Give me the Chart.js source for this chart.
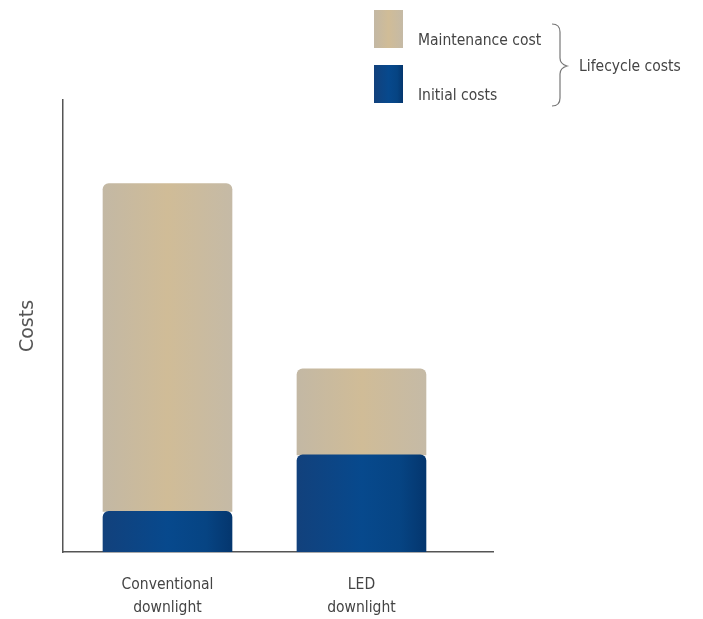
<!DOCTYPE html>
<html lang="en">
<head>
    <meta charset="UTF-8">
    <title>Lifecycle costs</title>
    <style>
        body {
            margin: 0;
            background-color: #fff;
        }
        .wrap {
            width: 703px;
            height: 619px;
        }
    </style>
</head>
<body>
    <div class="wrap">
        <canvas id="chart"></canvas>
    </div>

    <script src="https://cdn.jsdelivr.net/npm/chart.js@4"></script>
    <script>
        // Data
        const categories = [['Conventional', 'downlight'], ['LED', 'downlight']];
        const categoryPositions = [1, 2];
        const initialCosts = [9, 21.5];
        const maintenanceCosts = [72.5, 19];
        const seriesNames = ['Initial costs', 'Maintenance cost'];
        const groupLabel = 'Lifecycle costs';
        const yTitle = 'Costs';

        const FONT = "'DejaVu Sans Condensed', 'DejaVu Sans', sans-serif";

        // colour stops across the bar (left -> right)
        const tan = [[0, '#c3b8a4'], [0.5, '#d0bc97'], [1, '#c5baa6']];
        const blue = [[0, '#12417c'], [0.5, '#07498d'], [0.8, '#064483'], [1, '#04366e']];

        function hGradient(ctx, x0, x1, stops) {
            const g = ctx.createLinearGradient(x0, 0, x1, 0);
            stops.forEach(s => g.addColorStop(s[0], s[1]));
            return g;
        }

        const BAR_W = 129;

        function barFill(stops) {
            return function (context) {
                const chart = context.chart;
                if (!chart.chartArea || context.parsed === undefined) return stops[1][1];
                const cx = chart.scales.x.getPixelForValue(context.parsed.x);
                return hGradient(chart.ctx, cx - BAR_W / 2, cx + BAR_W / 2, stops);
            };
        }

        // custom legend with the brace
        const legendPlugin = {
            id: 'sideLegend',
            afterDraw(chart) {
                const ctx = chart.ctx;
                ctx.save();
                ctx.fillStyle = hGradient(ctx, 374, 403, tan);
                ctx.fillRect(374, 10, 29, 38);
                ctx.fillStyle = hGradient(ctx, 374, 403, blue);
                ctx.fillRect(374, 65, 29, 38);

                ctx.font = '15.5px ' + FONT;
                ctx.fillStyle = '#444';
                ctx.textBaseline = 'middle';
                ctx.fillText(seriesNames[1], 418, 41);
                ctx.fillText(seriesNames[0], 418, 96);
                ctx.fillText(groupLabel, 579, 67);

                ctx.strokeStyle = '#777';
                ctx.lineWidth = 1.2;
                ctx.beginPath();
                ctx.moveTo(552, 24);
                ctx.quadraticCurveTo(560, 24, 560, 32);
                ctx.lineTo(560, 58);
                ctx.quadraticCurveTo(560, 64, 567, 66);
                ctx.quadraticCurveTo(560, 68, 560, 74);
                ctx.lineTo(560, 98);
                ctx.quadraticCurveTo(560, 106, 552, 106);
                ctx.stroke();
                ctx.restore();
            }
        };

        const radius = { topLeft: 6, topRight: 6, bottomLeft: 0, bottomRight: 0 };

        new Chart(document.getElementById('chart'), {
            type: 'bar',
            data: {
                datasets: [
                    {
                        label: seriesNames[0],
                        data: categoryPositions.map((x, i) => ({ x: x, y: initialCosts[i] })),
                        backgroundColor: barFill(blue),
                        borderRadius: radius,
                        borderSkipped: false,
                        barThickness: BAR_W
                    },
                    {
                        label: seriesNames[1],
                        data: categoryPositions.map((x, i) => ({ x: x, y: maintenanceCosts[i] })),
                        backgroundColor: barFill(tan),
                        borderRadius: radius,
                        borderSkipped: false,
                        barThickness: BAR_W
                    }
                ]
            },
            options: {
                responsive: true,
                maintainAspectRatio: false,
                animation: false,
                layout: {
                    padding: { top: 100, right: 210, left: 0, bottom: 0 }
                },
                plugins: {
                    legend: { display: false },
                    tooltip: { enabled: false }
                },
                scales: {
                    x: {
                        type: 'linear',
                        stacked: true,
                        offset: false,
                        min: 0.4613,
                        max: 2.678,
                        grid: { display: false, offset: false },
                        border: { color: '#555', width: 1.5 },
                        afterBuildTicks(axis) {
                            axis.ticks = categoryPositions.map(v => ({ value: v }));
                        },
                        afterFit(axis) {
                            axis.height = 67;
                        },
                        ticks: {
                            autoSkip: false,
                            maxRotation: 0,
                            padding: 13,
                            color: '#444',
                            font: { family: FONT, size: 15.5, lineHeight: 1.5 },
                            callback(value) {
                                const i = categoryPositions.indexOf(value);
                                return i >= 0 ? categories[i] : '';
                            }
                        }
                    },
                    y: {
                        stacked: true,
                        min: 0,
                        max: 100,
                        grid: { display: false },
                        border: { color: '#555', width: 1.5 },
                        ticks: { display: false },
                        afterFit(axis) {
                            axis.width = 63;
                        },
                        title: {
                            display: true,
                            text: yTitle,
                            color: '#555',
                            font: { family: "'DejaVu Sans', sans-serif", size: 19 },
                            padding: { top: 17, bottom: 0 }
                        }
                    }
                }
            },
            plugins: [legendPlugin]
        });
    </script>
</body>
</html>
